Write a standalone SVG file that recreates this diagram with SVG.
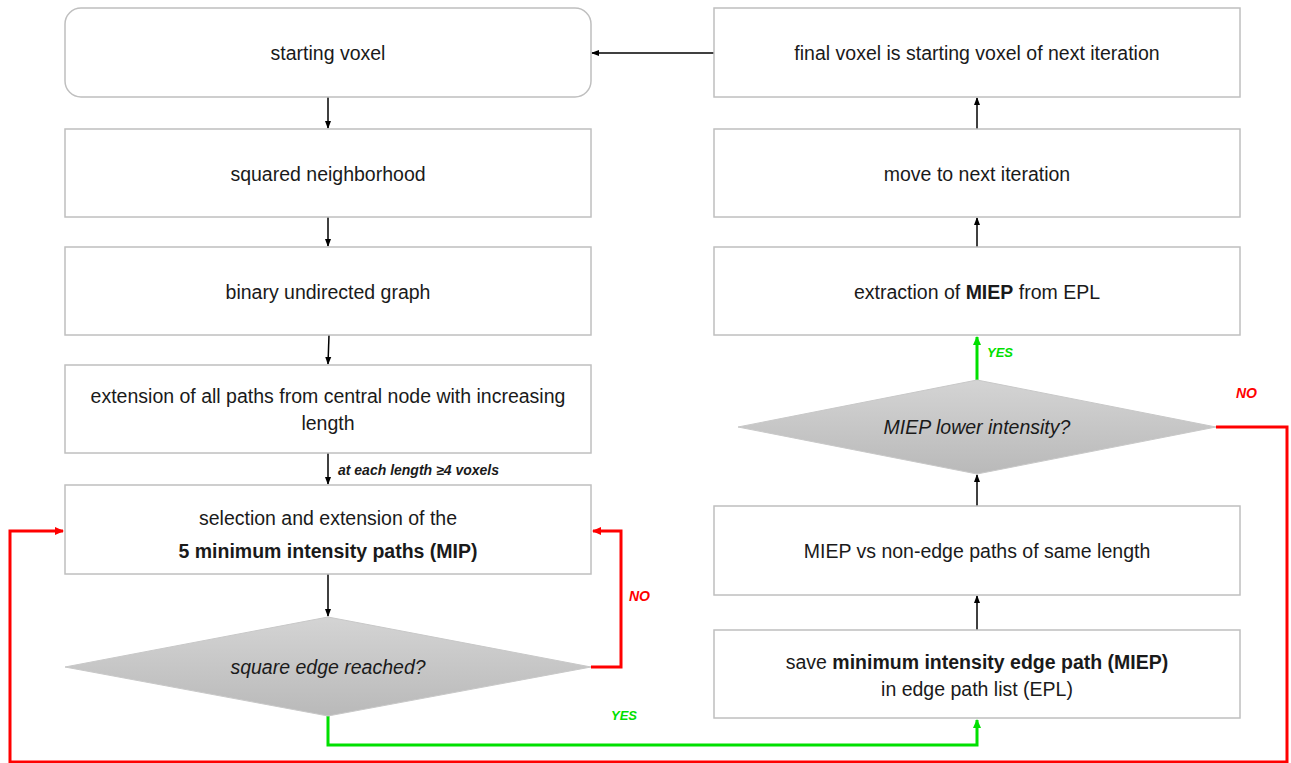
<svg xmlns="http://www.w3.org/2000/svg" width="1291" height="763" viewBox="0 0 1291 763">
<defs>
<linearGradient id="dg" x1="0" y1="0" x2="0" y2="1">
<stop offset="0" stop-color="#d4d4d4"/>
<stop offset="1" stop-color="#b9b9b9"/>
</linearGradient>
<marker id="ak" markerWidth="8" markerHeight="8" refX="7" refY="4" orient="auto" markerUnits="userSpaceOnUse"><path d="M0,1 L8,4 L0,7 Z" fill="#000"/></marker>
<marker id="ar" markerWidth="10" markerHeight="10" refX="8" refY="5" orient="auto" markerUnits="userSpaceOnUse"><path d="M0,1 L9,5 L0,9 Z" fill="#ff0000"/></marker>
<marker id="ag" markerWidth="10" markerHeight="10" refX="8" refY="5" orient="auto" markerUnits="userSpaceOnUse"><path d="M0,1 L9,5 L0,9 Z" fill="#00e000"/></marker>
</defs>
<style>
.box{fill:#fff;stroke:#bfbfbf;stroke-width:1.5}
.dia{fill:url(#dg);stroke:#c8c8c8;stroke-width:1}
text{font-family:"Liberation Sans",Arial,sans-serif;font-size:19.5px;fill:#1a1a1a;text-anchor:middle}
.b{font-weight:bold}
.i{font-style:italic}
.lbl{font-size:14px;font-weight:bold;font-style:italic;text-anchor:start}
.k{fill:none;stroke:#000;stroke-width:1.5;marker-end:url(#ak)}
.r{fill:none;stroke:#ff0000;stroke-width:3;marker-end:url(#ar)}
.g{fill:none;stroke:#00e000;stroke-width:3;marker-end:url(#ag)}
</style>
<rect width="1291" height="763" fill="#fff"/>
<g id="connectors">
<path class="k" d="M714,53 L592,53"/>
<path class="k" d="M328,97 L328,128"/>
<path class="k" d="M328,217 L328,246"/>
<path class="k" d="M329,335 L328,364"/>
<path class="k" d="M328,453 L328,484"/>
<path class="k" d="M328,574 L328,616"/>
<path class="k" d="M977,630 L977,596"/>
<path class="k" d="M977,506 L977,475"/>
<path class="k" d="M977,247 L977,218"/>
<path class="k" d="M977,129 L977,98"/>
<path class="r" d="M591,667 L621,667 L621,531 L593,531"/>
<path class="g" d="M328,716 L328,745 L977,745 L977,720"/>
<path class="r" d="M1216,427 L1287,427 L1287,762 L10,762 L10,531 L63,531"/>
<path class="g" d="M977,380 L977,337"/>
<text class="lbl" x="338" y="475" fill="#111">at each length ≥4 voxels</text>
<text class="lbl" x="629" y="601" style="fill:#ff0000">NO</text>
<text class="lbl" x="611" y="720" style="fill:#00e000;font-size:13px">YES</text>
<text class="lbl" x="1236" y="398" style="fill:#ff0000">NO</text>
<text class="lbl" x="987" y="357" style="fill:#00e000;font-size:13px">YES</text>
</g>
<g id="n1"><rect class="box" x="65" y="8" width="526" height="89" rx="16"/><text x="328" y="60">starting voxel</text></g>
<g id="n2"><rect class="box" x="65" y="129" width="526" height="88"/><text x="328" y="181">squared neighborhood</text></g>
<g id="n3"><rect class="box" x="65" y="247" width="526" height="88"/><text x="328" y="299">binary undirected graph</text></g>
<g id="n4"><rect class="box" x="65" y="365" width="526" height="88"/><text x="328" y="403">extension of all paths from central node with increasing</text><text x="328" y="430">length</text></g>
<g id="n5"><rect class="box" x="65" y="485" width="526" height="89"/><text x="328" y="525">selection and extension of the</text><text class="b" x="328" y="558">5 minimum intensity paths (MIP)</text></g>
<g id="n6"><polygon class="dia" points="328,617 591,667 328,716 65,667"/><text class="i" x="328" y="674">square edge reached?</text></g>
<g id="n7"><rect class="box" x="714" y="8" width="526" height="89"/><text x="977" y="60">final voxel is starting voxel of next iteration</text></g>
<g id="n8"><rect class="box" x="714" y="129" width="526" height="88"/><text x="977" y="181">move to next iteration</text></g>
<g id="n9"><rect class="box" x="714" y="247" width="526" height="88"/><text x="977" y="299">extraction of <tspan class="b">MIEP</tspan> from EPL</text></g>
<g id="n10"><polygon class="dia" points="977,380 1216,427 977,474 738,427"/><text class="i" x="977" y="434">MIEP lower intensity?</text></g>
<g id="n11"><rect class="box" x="714" y="506" width="526" height="89"/><text x="977" y="558">MIEP vs non-edge paths of same length</text></g>
<g id="n12"><rect class="box" x="714" y="630" width="526" height="88"/><text x="977" y="669">save <tspan class="b">minimum intensity edge path (MIEP)</tspan></text><text x="977" y="696">in edge path list (EPL)</text></g>
</svg>
